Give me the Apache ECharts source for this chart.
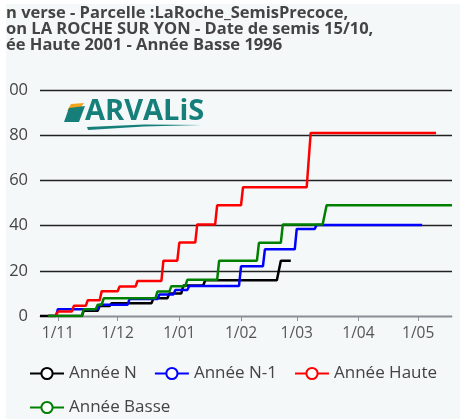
<!DOCTYPE html>
<html>
<head>
<meta charset="utf-8">
<script src="https://cdn.jsdelivr.net/npm/echarts@6/dist/echarts.min.js"></script>
<style>
  html, body { margin: 0; padding: 0; background: #ffffff; }
  #wrap { position: absolute; left: 6px; top: 4px; width: 454px; height: 415px; overflow: hidden; background: #f4f8f9; }
  #chart { width: 454px; height: 415px; }
</style>
</head>
<body>
<div id="wrap"><div id="chart"></div></div>
<script>
// valeurs (cumul, par date)
var titleLines = [
  'n verse - Parcelle :LaRoche_SemisPrecoce,',
  'on LA ROCHE SUR YON - Date de semis 15/10,',
  'ée Haute 2001 - Année Basse 1996'
];
var seriesNames = ['Année N', 'Année N-1', 'Année Haute', 'Année Basse'];
var seriesColors = ['#000000', '#0000ff', '#ff0000', '#008000'];

var datesN = ['2022-10-23', '2022-11-13', '2022-11-14', '2022-11-21', '2022-11-22', '2022-11-27', '2022-11-28',
  '2022-12-18', '2022-12-19', '2022-12-26', '2022-12-27', '2023-01-02', '2023-01-03', '2023-01-13', '2023-01-14',
  '2023-02-19', '2023-02-21', '2023-02-26'];
var valuesN = [0, 0, 2.3, 2.3, 4.4, 4.4, 5.6, 5.6, 7.8, 7.8, 10, 10, 13.5, 13.5, 15.8, 15.8, 24.5, 24.5];

var datesN1 = ['2022-10-27', '2022-10-31', '2022-11-01', '2022-11-21', '2022-11-22', '2022-12-06', '2022-12-07',
  '2022-12-21', '2022-12-22', '2022-12-29', '2022-12-30', '2023-01-05', '2023-01-06', '2023-01-31', '2023-02-01',
  '2023-02-12', '2023-02-13', '2023-02-28', '2023-03-01', '2023-03-10', '2023-03-11', '2023-05-03'];
var valuesN1 = [0, 0, 3, 3, 5, 5, 7.5, 7.5, 9.5, 9.5, 11.5, 11.5, 13.3, 13.3, 22, 22, 29.5, 29.5, 38.5, 38.5, 40.3, 40.3];

var datesHaute = ['2022-10-27', '2022-10-31', '2022-11-01', '2022-11-08', '2022-11-09', '2022-11-15', '2022-11-16',
  '2022-11-22', '2022-11-23', '2022-12-01', '2022-12-02', '2022-12-10', '2022-12-11', '2022-12-23', '2022-12-24',
  '2022-12-31', '2023-01-01', '2023-01-09', '2023-01-10', '2023-01-19', '2023-01-20', '2023-02-01', '2023-02-02',
  '2023-03-06', '2023-03-08', '2023-05-10'];
var valuesHaute = [0, 0, 2, 2, 4.5, 4.5, 7, 7, 11, 11, 13, 13, 15.5, 15.5, 24.5, 24.5, 32.5, 32.5, 40.5, 40.5, 49, 49, 57,
  57, 81, 81];

var datesBasse = ['2022-10-27', '2022-11-13', '2022-11-14', '2022-11-20', '2022-11-21', '2022-11-23', '2022-11-24',
  '2022-12-20', '2022-12-21', '2022-12-27', '2022-12-28', '2023-01-04', '2023-01-05', '2023-01-20', '2023-01-21',
  '2023-02-09', '2023-02-10', '2023-02-21', '2023-02-22', '2023-03-14', '2023-03-16', '2023-05-18'];
var valuesBasse = [0, 0, 3, 3, 5, 5, 7.8, 7.8, 10.8, 10.8, 13.2, 13.2, 16, 16, 24.5, 24.5, 32.4, 32.4, 40.5, 40.5, 49, 49];

var xMin = '2022-10-23';
var xMax = '2023-05-18';
var yTicks = [0, 20, 40, 60, 80, 100];

function pairs(dates, values) {
  return dates.map(function (d, i) { return [d, values[i]]; });
}

var allData = [
  pairs(datesN, valuesN),
  pairs(datesN1, valuesN1),
  pairs(datesHaute, valuesHaute),
  pairs(datesBasse, valuesBasse)
];

var dom = document.getElementById('chart');
var myChart = echarts.init(dom);
var DAY = 86400000;

var option = {
  backgroundColor: '#f4f8f9',
  animation: false,
  title: {
    text: titleLines.join('\n'),
    left: 0,
    top: 1,
    padding: 0,
    textStyle: {
      color: '#444444',
      fontSize: 16.5,
      fontWeight: 'bold',
      fontFamily: 'Open Sans',
      lineHeight: 16
    }
  },
  legend: {
    data: seriesNames,
    left: 18,
    top: 356,
    width: 436,
    itemWidth: 34,
    itemHeight: 14,
    itemGap: 17,
    textStyle: {
      color: '#444444',
      fontSize: 17,
      fontFamily: 'Open Sans'
    }
  },
  grid: {
    left: 34,
    right: 8,
    top: 86,
    bottom: 103,
    containLabel: false,
    outerBoundsMode: 'none'
  },
  xAxis: {
    type: 'time',
    min: xMin,
    max: xMax,
    minInterval: 28 * DAY,
    maxInterval: 31 * DAY,
    axisLine: {
      lineStyle: { color: '#8a8f99' }
    },
    axisTick: {
      show: true,
      length: 5,
      lineStyle: { color: '#8a8f99' }
    },
    splitLine: { show: false },
    axisLabel: {
      color: '#555555',
      fontSize: 15.5,
      fontFamily: 'Open Sans',
      margin: 10,
      showMinLabel: false,
      showMaxLabel: false,
      formatter: function (val) {
        var d = new Date(val);
        var m = d.getMonth() + 1;
        return d.getDate() + '/' + (m < 10 ? '0' + m : m);
      }
    }
  },
  yAxis: {
    type: 'value',
    min: yTicks[0],
    max: yTicks[yTicks.length - 1],
    interval: 20,
    axisLine: { show: false },
    axisTick: { show: false },
    splitLine: {
      lineStyle: { color: '#222222', width: 1.3 }
    },
    axisLabel: {
      color: '#444444',
      fontSize: 16.5,
      fontFamily: 'Open Sans',
      margin: 12
    }
  },
  graphic: [
    // logo ARVALIS
    { type: 'polygon', shape: { points: [[65, 100], [78, 99], [73, 106], [61, 107]] }, style: { fill: '#f2a51c' } },
    { type: 'polygon', shape: { points: [[63, 104], [79, 102], [73, 118], [58, 118]] }, style: { fill: '#167f7a' } },
    {
      type: 'text', left: 79, top: 93,
      style: { text: 'ARVALiS', fill: '#167f7a', font: 'bold 29px "Open Sans"' }
    },
    {
      type: 'polygon',
      shape: { points: [[81, 123], [138, 120.5], [196, 121], [138, 122.5], [82, 126]] },
      style: { fill: '#167f7a' }
    }
  ],
  series: allData.map(function (d, i) {
    return {
      name: seriesNames[i],
      type: 'line',
      data: d,
      symbol: 'emptyCircle',
      symbolSize: 12,
      showSymbol: false,
      lineStyle: { color: seriesColors[i], width: 2.5 },
      itemStyle: { color: seriesColors[i], borderWidth: 2 }
    };
  })
};

if (option && typeof option === "object") {
  myChart.setOption(option, true);
}
</script>
</body>
</html>
